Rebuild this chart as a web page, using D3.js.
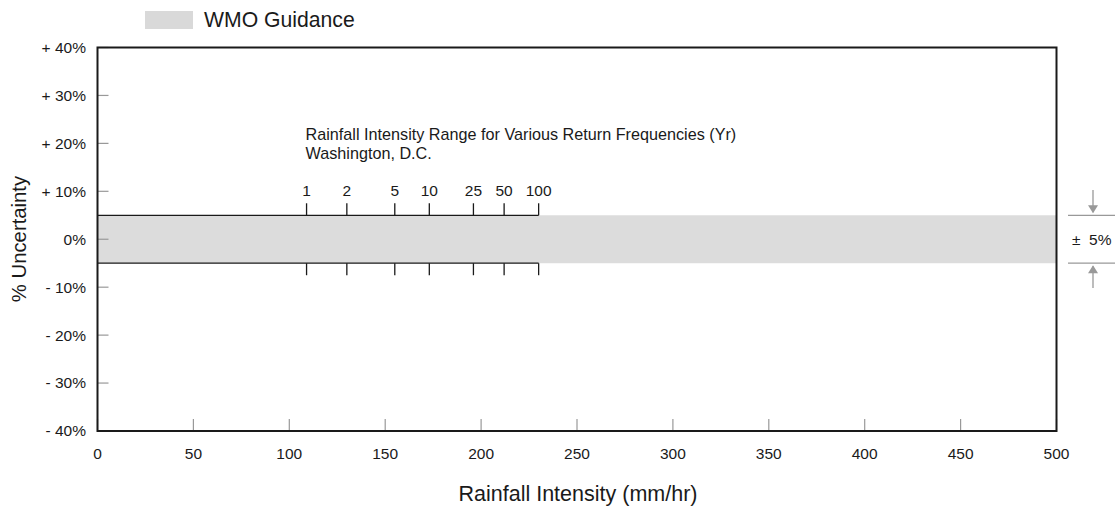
<!DOCTYPE html>
<html><head><meta charset="utf-8">
<script src="https://cdn.jsdelivr.net/npm/d3@7"></script>
<style>body{margin:0;background:#fff;}svg{display:block;font-family:"Liberation Sans",Arial,sans-serif;}</style>
</head><body>
<svg id="c" width="1115" height="511"></svg>
<script>
const xTicks = [0,50,100,150,200,250,300,350,400,450,500];
const yTicks = [40,30,20,10,0,-10,-20,-30,-40];
const yTickLabels = ["+ 40%","+ 30%","+ 20%","+ 10%","0%","- 10%","- 20%","- 30%","- 40%"];
const bandHalfWidth = 5; // WMO guidance ± %
const returnPeriods = ["1","2","5","10","25","50","100"];
const returnIntensities = [109,130,155,173,196,212,230];

const svg = d3.select("#c");
const m = {l:97.5, r:1056.5, t:47.5, b:431};
const x = d3.scaleLinear().domain([0,500]).range([m.l,m.r]);
const y = d3.scaleLinear().domain([-40,40]).range([m.b,m.t]);
const ink = "#1a1a1a";

// band
svg.append("rect").attr("x",x(0)).attr("y",y(bandHalfWidth)).attr("width",x(500)-x(0))
  .attr("height",y(-bandHalfWidth)-y(bandHalfWidth)).attr("fill","#dcdcdc");

// inner ticks y
svg.append("g").selectAll("line").data(yTicks).join("line")
  .attr("x1",x(0)).attr("x2",x(0)+11).attr("y1",d=>y(d)).attr("y2",d=>y(d))
  .attr("stroke","#999").attr("stroke-width",1.2);
// inner ticks x
svg.append("g").selectAll("line").data(xTicks).join("line")
  .attr("x1",d=>x(d)).attr("x2",d=>x(d)).attr("y1",y(-40)).attr("y2",y(-40)-12)
  .attr("stroke","#999").attr("stroke-width",1.2);

// y labels
svg.append("g").selectAll("text").data(yTicks).join("text")
  .attr("x",86).attr("y",d=>y(d)).attr("dy","0.35em").attr("text-anchor","end")
  .attr("font-size",15.5).attr("fill",ink).text((d,i)=>yTickLabels[i]);
// x labels
svg.append("g").selectAll("text").data(xTicks).join("text")
  .attr("x",d=>x(d)).attr("y",454).attr("dy","0.35em").attr("text-anchor","middle")
  .attr("font-size",15.5).attr("fill",ink).text(d=>d);

// frame
svg.append("rect").attr("x",x(0)).attr("y",y(40)).attr("width",x(500)-x(0)).attr("height",y(-40)-y(40))
  .attr("fill","none").attr("stroke",ink).attr("stroke-width",2);

// return-period scale
const rMax = returnIntensities[returnIntensities.length-1];
[bandHalfWidth,-bandHalfWidth].forEach((v,k)=>{
  svg.append("line").attr("x1",x(0)).attr("x2",x(rMax)).attr("y1",y(v)).attr("y2",y(v))
    .attr("stroke",ink).attr("stroke-width",1.3);
  svg.append("g").selectAll("line").data(returnIntensities).join("line")
    .attr("x1",d=>x(d)).attr("x2",d=>x(d))
    .attr("y1",y(v)).attr("y2",y(v)+(k===0?-12:12))
    .attr("stroke",ink).attr("stroke-width",1.3);
});
svg.append("g").selectAll("text").data(returnIntensities).join("text")
  .attr("x",d=>x(d)).attr("y",191).attr("dy","0.35em").attr("text-anchor","middle")
  .attr("font-size",15.5).attr("fill",ink).text((d,i)=>returnPeriods[i]);
svg.append("text").attr("x",x(returnIntensities[0])-1).attr("y",134).attr("dy","0.35em")
  .attr("font-size",16.2).attr("fill",ink).text("Rainfall Intensity Range for Various Return Frequencies (Yr)");
svg.append("text").attr("x",x(returnIntensities[0])-1).attr("y",153).attr("dy","0.35em")
  .attr("font-size",16.2).attr("fill",ink).text("Washington, D.C.");

// right annotation
const ga = svg.append("g").attr("stroke","#999").attr("stroke-width",1.3).attr("fill","none");
[bandHalfWidth,-bandHalfWidth].forEach(v=>{
  ga.append("line").attr("x1",1068).attr("x2",1115).attr("y1",y(v)).attr("y2",y(v));
});
ga.append("line").attr("x1",1093).attr("x2",1093).attr("y1",190).attr("y2",y(bandHalfWidth)-3);
ga.append("line").attr("x1",1093).attr("x2",1093).attr("y1",y(-bandHalfWidth)+3).attr("y2",288);
svg.append("path").attr("d",`M1088,${y(bandHalfWidth)-10}L1098,${y(bandHalfWidth)-10}L1093,${y(bandHalfWidth)-2}Z`).attr("fill","#999");
svg.append("path").attr("d",`M1088,${y(-bandHalfWidth)+10}L1098,${y(-bandHalfWidth)+10}L1093,${y(-bandHalfWidth)+2}Z`).attr("fill","#999");
svg.append("text").attr("x",1072).attr("y",y(0)).attr("dy","0.35em").attr("font-size",15.5).attr("fill",ink)
  .attr("xml:space","preserve").text("±  " + bandHalfWidth + "%");

// axis titles
svg.append("text").attr("x",578).attr("y",493).attr("dy","0.35em").attr("text-anchor","middle")
  .attr("font-size",21.5).attr("fill",ink).text("Rainfall Intensity (mm/hr)");
svg.append("text").attr("transform","translate(19,239) rotate(-90)").attr("dy","0.35em").attr("text-anchor","middle")
  .attr("font-size",20.3).attr("fill",ink).text("% Uncertainty");

// legend
svg.append("rect").attr("x",145).attr("y",11).attr("width",48).attr("height",18).attr("fill","#d9d9d9");
svg.append("text").attr("x",204).attr("y",20).attr("dy","0.35em").attr("font-size",21.2).attr("fill",ink).text("WMO Guidance");
</script>
</body></html>
